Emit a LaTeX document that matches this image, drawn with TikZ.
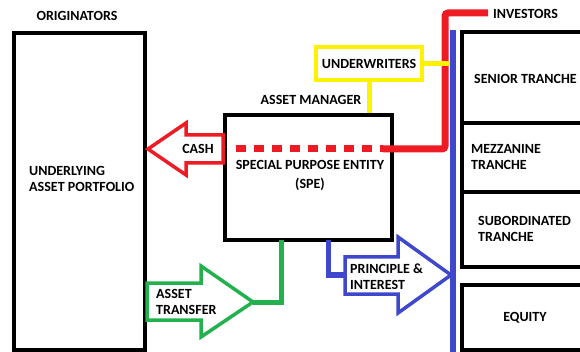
\documentclass[tikz,border=0pt]{standalone}
\usepackage{fontspec}
\setmainfont{Carlito}
\usetikzlibrary{positioning}
\definecolor{cashred}{RGB}{237,28,36}
\definecolor{payblue}{RGB}{63,72,204}
\definecolor{xfergreen}{RGB}{34,177,76}
\definecolor{uwyellow}{RGB}{255,242,0}
\tikzset{
  box/.style={draw,line width=3.5pt,inner sep=0pt},
  lbl/.style={font=\bfseries\fontsize{14}{16}\selectfont,inner sep=0pt,align=left},
}

\begin{document}
\begin{tikzpicture}[x=1pt,y=-1pt]
      \useasboundingbox (0,0) rectangle (580,352);
      \clip (0,0) rectangle (580,352);
      % boxes
      \node[box,minimum width=131pt,minimum height=317pt] (orig) at (79.5,191.5) {};
      \node[box,minimum width=167pt,minimum height=125pt] (spe) at (308.5,177.5) {};
      \node[box,draw=uwyellow,line width=4pt,minimum width=106pt,minimum height=33pt] (uw) at (369,63.5) {};
      \node[box,minimum width=130pt,minimum height=91pt] (senior) at (527,77.5) {};
      \node[box,minimum width=130pt,minimum height=69pt] (mezz) at (527,157.5) {};
      \node[box,minimum width=130pt,minimum height=75pt] (sub) at (527,229.5) {};
      \node[box,minimum width=130pt,minimum height=65pt] (equity) at (527,317.5) {};
      % investors bus and feeds
      \coordinate (bustop) at (453,30);
      \coordinate (busend) at (453,352);
      \coordinate (cashin) at (236,149);
      \coordinate (cashout) at (383,149);
      \coordinate (inv) at (488,13);
      \draw[cashred,line width=7pt,dash pattern=on 10pt off 8pt] (cashin) -- (cashout);
      \draw[cashred,line width=7pt,rounded corners=3pt] (cashout) -- (445,149) -- (445,13) -- (inv);
      \draw[uwyellow,line width=5pt] (uw.east) -- (uw.east -| bustop);
      \draw[uwyellow,line width=5pt] (uw.south) -- (uw.south |- spe.north);
      \draw[payblue,line width=6pt] (bustop) -- (busend);
      % arrows
      \draw[cashred,line width=3.5pt,line join=miter] (148,149) -- (186,123) -- (186,135) -- (223,135)
      -- (223,163) -- (186,163) -- (186,175) -- cycle;
      \draw[xfergreen,line width=3.5pt,line join=miter] (147,283) -- (201,283) -- (201,266) -- (253,302)
      -- (201,337) -- (201,320) -- (147,320) -- cycle;
      \draw[xfergreen,line width=5pt] (253,302) -- (281,302) -- (281,240);
      \draw[payblue,line width=3.5pt,line join=miter] (345,257) -- (398,257) -- (398,237) -- (451,275)
      -- (398,313) -- (398,294) -- (345,294) -- cycle;
      \draw[payblue,line width=5pt] (328,240) -- (328,275) -- (345,275);
      % labels
      \node[lbl] (origlbl) at (77,16) {ORIGINATORS};
      \node[lbl,anchor=west] (portlbl) at (29,178.5) {UNDERLYING\\ASSET PORTFOLIO};
      \node[lbl] (cashlbl) at (198,149) {CASH};
      \node[lbl] (mgrlbl) at (311,100) {ASSET MANAGER};
      \node[lbl,align=center] (spelbl) at (310,175) {SPECIAL PURPOSE ENTITY\\[3pt](SPE)};
      \node[lbl] (uwlbl) at (uw) {UNDERWRITERS};
      \node[lbl,anchor=west] (invlbl) at (493,14) {INVESTORS};
      \node[lbl,anchor=west] (seniorlbl) at (474,79) {SENIOR TRANCHE};
      \node[lbl,anchor=west] (mezzlbl) at (471,157.5) {MEZZANINE\\TRANCHE};
      \node[lbl,anchor=west] (sublbl) at (478,228.5) {SUBORDINATED\\TRANCHE};
      \node[lbl] (equitylbl) at (525,318) {EQUITY};
      \node[lbl,anchor=west] (xferlbl) at (156,302) {ASSET\\TRANSFER};
      \node[lbl,anchor=west] (paylbl) at (350,276.5) {PRINCIPLE \&\\INTEREST};
\end{tikzpicture}
\end{document}
